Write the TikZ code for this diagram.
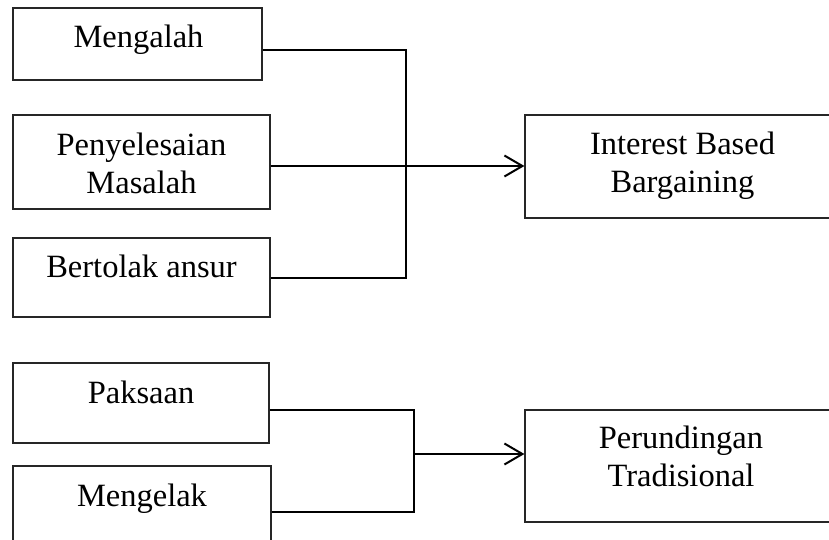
\documentclass[tikz,border=0pt]{standalone}
\usepackage{fontspec}
\setmainfont{Liberation Serif}
\usetikzlibrary{arrows.meta}
\begin{document}
\begin{tikzpicture}[x=1pt,y=-1pt,
  box/.style={draw=black!85,line width=1.2pt,minimum width=#1,inner sep=0pt},
  lbl/.style={font=\fontsize{32.5pt}{38pt}\selectfont,align=center,anchor=base,inner sep=0pt},
  conn/.style={line width=2pt},
  arr/.style={conn,-{Straight Barb[length=18pt,width=21pt]}}]
\useasboundingbox (0,0) rectangle (829,539);
\clip (0,0) rectangle (829,539);
% left boxes (top group)
\node[box=249pt,minimum height=72pt] (m1) at (137.5,44) {};
\node[box=257pt,minimum height=94pt] (m2) at (141.5,162) {};
\node[box=257pt,minimum height=79pt] (m3) at (141.5,277.5) {};
\node[box=315pt,minimum height=103pt] (ib) at (682.5,166.5) {};
% bottom group
\node[box=256pt,minimum height=80pt] (p1) at (141,403) {};
\node[box=258pt,minimum height=80pt] (p2) at (142,506) {};
\node[box=314pt,minimum height=112pt] (pt) at (682,466) {};
% labels (base anchor = baseline of the last line)
\node[lbl] (m1t) at (138.5,47) {Mengalah};
\node[lbl] (m2t) at (141.5,193) {Penyelesaian\\Masalah};
\node[lbl] (m3t) at (141.5,277.3) {Bertolak ansur};
\node[lbl] (ibt) at (682.5,192.7) {Interest Based\\Bargaining};
\node[lbl] (p1t) at (141,403.3) {Paksaan};
\node[lbl] (p2t) at (142,506.7) {Mengelak};
\node[lbl] (ptt) at (681,486.7) {Perundingan\\Tradisional};
% junctions
\coordinate (ja) at (406,166);
\coordinate (jb) at (414,454);
% connectors
\draw[conn] ([yshift=-6pt]m1.east) -| (ja);
\draw[conn] (m3.east) -| (ja);
\draw[arr] ([yshift=-4pt]m2.east) -- ([yshift=-4pt]m2.east -| ib.west);
\draw[conn] ([yshift=-7pt]p1.east) -| (jb);
\draw[conn] ([yshift=-6pt]p2.east) -| (jb);
\draw[arr] (jb) -- (jb -| pt.west);
\end{tikzpicture}
\end{document}
